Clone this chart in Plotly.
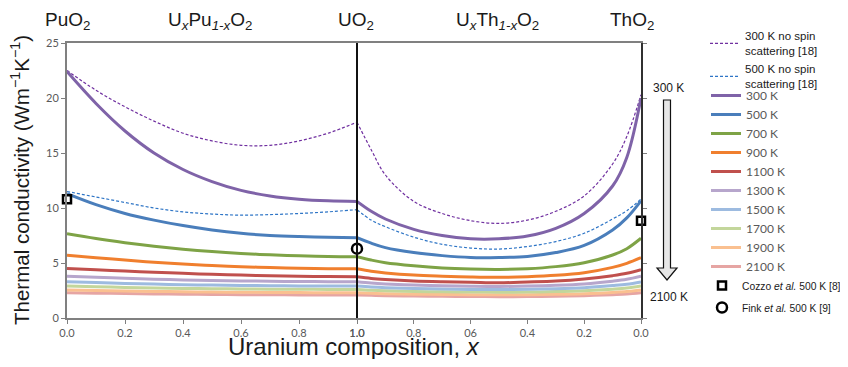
import plotly.graph_objects as go

# page has an 8px body margin: figure sized to fit the 848x367 window exactly
OFF = 8
W, H = 848 - 2 * OFF, 367 - 2 * OFF

# ---------------- data ----------------
x_left = [0.0, 0.1, 0.2, 0.3, 0.4, 0.5, 0.6, 0.7, 0.8, 0.9, 1.0]
x_right = [1.0, 0.95, 0.9, 0.8, 0.7, 0.6, 0.5, 0.4, 0.3, 0.2, 0.1, 0.05, 0.0]

ns300_left = [22.5, 20.7, 19.2, 17.9, 16.8, 16.1, 15.7, 15.7, 16.1, 16.8, 17.8]
ns300_right = [17.8, 15.3, 13.0, 10.6, 9.5, 8.85, 8.6, 8.9, 9.7, 11.1, 14.0, 16.5, 20.3]
ns500_left = [11.5, 11.0, 10.5, 10.0, 9.65, 9.45, 9.35, 9.4, 9.5, 9.65, 9.85]
ns500_right = [9.85, 8.9, 8.3, 7.35, 6.7, 6.36, 6.27, 6.5, 6.95, 7.7, 9.0, 9.75, 10.8]

temps = ["300 K", "500 K", "700 K", "900 K", "1100 K", "1300 K", "1500 K", "1700 K", "1900 K", "2100 K"]
k_left = {
    "300 K": [22.4, 19.5, 17.0, 15.0, 13.5, 12.4, 11.6, 11.1, 10.8, 10.65, 10.6],
    "500 K": [11.3, 10.3, 9.5, 8.9, 8.4, 8.0, 7.7, 7.5, 7.4, 7.35, 7.3],
    "700 K": [7.65, 7.22, 6.85, 6.53, 6.26, 6.04, 5.87, 5.74, 5.65, 5.59, 5.57],
    "900 K": [5.7, 5.48, 5.27, 5.07, 4.9, 4.77, 4.67, 4.58, 4.52, 4.48, 4.47],
    "1100 K": [4.5, 4.38, 4.27, 4.16, 4.06, 3.97, 3.9, 3.84, 3.8, 3.77, 3.75],
    "1300 K": [3.8, 3.7, 3.61, 3.53, 3.46, 3.41, 3.37, 3.34, 3.32, 3.3, 3.3],
    "1500 K": [3.3, 3.22, 3.14, 3.08, 3.03, 2.99, 2.96, 2.94, 2.92, 2.91, 2.9],
    "1700 K": [2.9, 2.84, 2.78, 2.73, 2.69, 2.66, 2.64, 2.62, 2.61, 2.6, 2.6],
    "1900 K": [2.55, 2.5, 2.46, 2.42, 2.39, 2.36, 2.34, 2.32, 2.31, 2.3, 2.3],
    "2100 K": [2.3, 2.26, 2.22, 2.19, 2.16, 2.14, 2.12, 2.11, 2.1, 2.1, 2.1],
}
k_right = {
    "300 K": [10.6, 9.7, 9.0, 8.06, 7.5, 7.2, 7.2, 7.45, 8.15, 9.5, 12.0, 14.6, 20.0],
    "500 K": [7.3, 6.8, 6.4, 5.95, 5.67, 5.5, 5.5, 5.6, 5.95, 6.6, 8.0, 9.1, 10.65],
    "700 K": [5.57, 5.27, 5.03, 4.75, 4.55, 4.45, 4.42, 4.48, 4.67, 5.03, 5.73, 6.3, 7.25],
    "900 K": [4.47, 4.25, 4.1, 3.9, 3.8, 3.73, 3.7, 3.76, 3.88, 4.12, 4.6, 4.97, 5.48],
    "1100 K": [3.75, 3.6, 3.5, 3.36, 3.29, 3.25, 3.2, 3.27, 3.36, 3.55, 3.85, 4.06, 4.4],
    "1300 K": [3.3, 3.18, 3.1, 3.0, 2.93, 2.89, 2.87, 2.9, 2.97, 3.1, 3.35, 3.52, 3.8],
    "1500 K": [2.9, 2.82, 2.76, 2.68, 2.63, 2.6, 2.59, 2.61, 2.66, 2.76, 2.95, 3.07, 3.28],
    "1700 K": [2.6, 2.53, 2.48, 2.42, 2.38, 2.36, 2.35, 2.36, 2.4, 2.48, 2.62, 2.72, 2.9],
    "1900 K": [2.3, 2.25, 2.21, 2.17, 2.14, 2.12, 2.11, 2.12, 2.15, 2.21, 2.32, 2.4, 2.55],
    "2100 K": [2.1, 2.06, 2.03, 1.99, 1.97, 1.95, 1.94, 1.95, 1.98, 2.03, 2.12, 2.18, 2.3],
}

cozzo_left_x, cozzo_left_y = [0.0], [10.8]
cozzo_right_x, cozzo_right_y = [0.0], [8.85]
fink_x, fink_y = [1.0], [6.3]

x_tick_left = [0.0, 0.2, 0.4, 0.6, 0.8, 1.0]
x_ticktext_left = ["0.0", "0.2", "0.4", "0.6", "0.8", "1.0"]
x_tick_right = [1.0, 0.8, 0.6, 0.4, 0.2, 0.0]
x_ticktext_right = ["1.0", "0.8", "06", "0.4", "0.2", "0.0"]
y_ticks = [0, 5, 10, 15, 20, 25]

# ---------------- styles ----------------
temp_colors = {
    "300 K": "#7F63A8", "500 K": "#4A7EBB", "700 K": "#7EA346", "900 K": "#F07F2E",
    "1100 K": "#C0504D", "1300 K": "#B7A6CC", "1500 K": "#9DBBE0", "1700 K": "#C3D69B",
    "1900 K": "#FAC090", "2100 K": "#E6A5A3",
}
ns300_color = "#7030A0"
ns500_color = "#2E75C6"


def px(x):
    return (x - OFF) / W


def py(y):
    return 1 - (y - OFF) / H


fig = go.Figure()

# no-spin dashed lines
for xs, ys, show in [(x_left, ns300_left, True), (x_right, ns300_right, False)]:
    fig.add_trace(go.Scatter(
        x=xs, y=ys, mode="lines", line=dict(color=ns300_color, width=1.2, dash="3px,2px", shape="spline"),
        name="300 K no spin<br>scattering [18]", legend="legend", legendgroup="ns300", showlegend=show,
        xaxis="x" if xs is x_left else "x2", yaxis="y" if xs is x_left else "y2"))
for xs, ys, show in [(x_left, ns500_left, True), (x_right, ns500_right, False)]:
    fig.add_trace(go.Scatter(
        x=xs, y=ys, mode="lines", line=dict(color=ns500_color, width=1.2, dash="3px,2px", shape="spline"),
        name="500 K no spin<br>scattering [18]", legend="legend", legendgroup="ns500", showlegend=show,
        xaxis="x" if xs is x_left else "x2", yaxis="y" if xs is x_left else "y2"))

# temperature curves (draw light ones first so dark ones sit on top)
for t in reversed(temps):
    fig.add_trace(go.Scatter(
        x=x_left, y=k_left[t], mode="lines", line=dict(color=temp_colors[t], width=3, shape="spline"),
        name=t, legend="legend2", legendgroup=t, showlegend=False, xaxis="x", yaxis="y"))
    fig.add_trace(go.Scatter(
        x=x_right, y=k_right[t], mode="lines", line=dict(color=temp_colors[t], width=3, shape="spline"),
        name=t, legend="legend2", legendgroup=t, showlegend=False, xaxis="x2", yaxis="y2"))
# legend-only entries in the correct order
for t in temps:
    fig.add_trace(go.Scatter(
        x=[None], y=[None], mode="lines", line=dict(color=temp_colors[t], width=3),
        name=t, legend="legend2", legendgroup=t, showlegend=True, xaxis="x", yaxis="y"))

# experimental points
fig.add_trace(go.Scatter(
    x=cozzo_left_x, y=cozzo_left_y, mode="markers", cliponaxis=False,
    marker=dict(symbol="square-open", size=8, color="black", line=dict(width=2.5, color="black")),
    name="Cozzo <i>et al.</i> 500 K [8]", legend="legend3", legendgroup="cozzo", xaxis="x", yaxis="y"))
fig.add_trace(go.Scatter(
    x=cozzo_right_x, y=cozzo_right_y, mode="markers", cliponaxis=False,
    marker=dict(symbol="square-open", size=8, color="black", line=dict(width=2.5, color="black")),
    name="Cozzo <i>et al.</i> 500 K [8]", legend="legend3", legendgroup="cozzo", showlegend=False,
    xaxis="x2", yaxis="y2"))
fig.add_trace(go.Scatter(
    x=fink_x, y=fink_y, mode="markers", cliponaxis=False,
    marker=dict(symbol="circle-open", size=10, color="black", line=dict(width=2.5, color="black")),
    name="Fink <i>et al.</i> 500 K [9]", legend="legend4", legendgroup="fink", xaxis="x", yaxis="y"))

# ---------------- layout ----------------
xl0, xl1, xr1 = px(67), px(357), px(641)
yb, yt = py(318), py(43)

tickfont = dict(family="Lato, Carlito, sans-serif", size=11, color="#595959")
axis_common = dict(showgrid=False, zeroline=False, ticks="outside", ticklen=4, tickwidth=1,
                   tickcolor="#7f7f7f", showline=True, linewidth=2, tickfont=tickfont, automargin=False)

fig.update_layout(
    template="none",
    width=W, height=H, margin=dict(l=0, r=0, t=0, b=0, pad=0, autoexpand=False),
    paper_bgcolor="white", plot_bgcolor="white", showlegend=True,
    xaxis=dict(domain=[xl0, xl1], range=[0, 1], tickvals=x_tick_left, ticktext=x_ticktext_left,
               anchor="y", mirror=True, linecolor="#808080", **axis_common),
    yaxis=dict(domain=[yb, yt], range=[0, 25], tickvals=y_ticks, anchor="x",
               linecolor="#808080", **axis_common),
    xaxis2=dict(domain=[xl1, xr1], range=[1, 0], tickvals=x_tick_right, ticktext=x_ticktext_right,
                anchor="y2", mirror=True, linecolor="#808080", **axis_common),
    yaxis2=dict(domain=[yb, yt], range=[0, 25], tickvals=y_ticks, anchor="x2", side="right",
                showticklabels=False, linecolor="#303030", **axis_common),
    legend=dict(x=px(705), y=py(22), xanchor="left", yanchor="top", bgcolor="rgba(0,0,0,0)",
                font=dict(family="Liberation Sans, Arial", size=11.5, color="#1a1a1a"),
                tracegroupgap=0, itemwidth=30),
    legend2=dict(x=px(706), y=py(81), xanchor="left", yanchor="top", bgcolor="rgba(0,0,0,0)",
                 font=dict(family="Lato, Carlito, sans-serif", size=12, color="#595959"),
                 tracegroupgap=0, itemwidth=30),
    legend3=dict(x=px(702), y=py(271), xanchor="left", yanchor="top", bgcolor="rgba(0,0,0,0)",
                 font=dict(family="Liberation Sans, Arial", size=10.3, color="#1a1a1a"), itemwidth=30),
    legend4=dict(x=px(702), y=py(293), xanchor="left", yanchor="top", bgcolor="rgba(0,0,0,0)",
                 font=dict(family="Liberation Sans, Arial", size=10.3, color="#1a1a1a"), itemwidth=30),
)

# divider line at UO2
fig.add_shape(type="line", xref="paper", yref="paper", x0=xl1, x1=xl1, y0=yb, y1=yt,
              line=dict(color="#111111", width=2))

# block arrow 300 K -> 2100 K
pts = [(663.5, 100), (670.5, 100), (670.5, 268), (677, 268), (667, 280), (657, 268), (663.5, 268)]
path = "M " + " L ".join(f"{px(a):.5f},{py(b):.5f}" for a, b in pts) + " Z"
fig.add_shape(type="path", xref="paper", yref="paper", path=path,
              fillcolor="#e6e6e6", line=dict(color="#111111", width=1.2))

ann_font = dict(family="Liberation Sans, Arial", color="#1a1a1a")
annotations = [
    dict(x=px(668), y=py(88), text="300 K", font=dict(size=12, **ann_font)),
    dict(x=px(669), y=py(297), text="2100 K", font=dict(size=12, **ann_font)),
    dict(x=px(68), y=py(21), text="PuO<sub>2</sub>", font=dict(size=19, **ann_font)),
    dict(x=px(210), y=py(21), text="U<sub><i>x</i></sub>Pu<sub><i>1-x</i></sub>O<sub>2</sub>",
         font=dict(size=19, **ann_font)),
    dict(x=px(356), y=py(21), text="UO<sub>2</sub>", font=dict(size=19, **ann_font)),
    dict(x=px(497), y=py(21), text="U<sub><i>x</i></sub>Th<sub><i>1-x</i></sub>O<sub>2</sub>",
         font=dict(size=19, **ann_font)),
    dict(x=px(632), y=py(21), text="ThO<sub>2</sub>", font=dict(size=19, **ann_font)),
    dict(x=px(354), y=py(346), text="Uranium composition, <i>x</i>", font=dict(size=24, **ann_font)),
    dict(x=px(20), y=py(180), text="Thermal conductivity (Wm<sup>\u22121</sup>K<sup>\u22121</sup>)",
         textangle=-90, font=dict(size=20.5, **ann_font)),
]
for a in annotations:
    fig.add_annotation(xref="paper", yref="paper", showarrow=False, xanchor="center", yanchor="middle", **a)

fig.write_html("out.html")
